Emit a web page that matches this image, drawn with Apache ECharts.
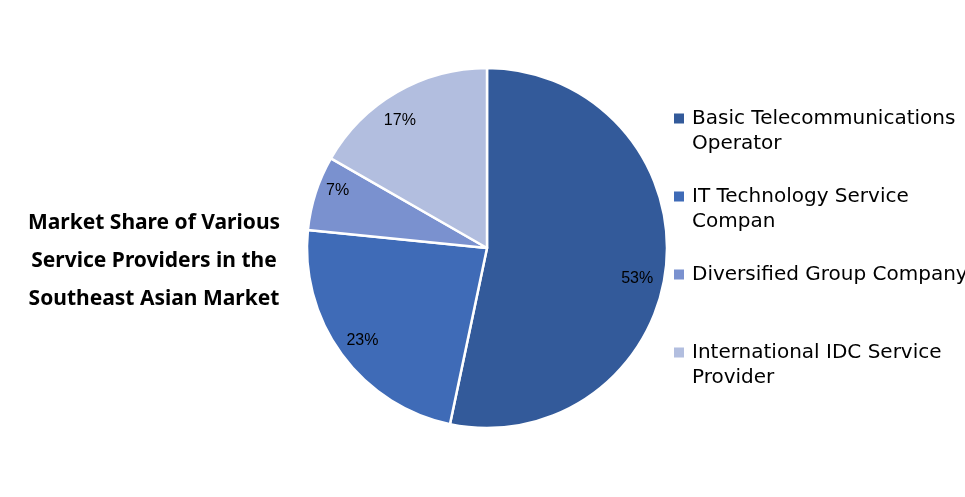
<!DOCTYPE html>
<html><head><meta charset="utf-8">
<script src="https://cdn.jsdelivr.net/npm/echarts@6/dist/echarts.min.js"></script>
<style>html,body{margin:0;padding:0;background:#fff}#c{width:965px;height:497px}</style>
</head><body><div id="c"></div>
<script>
const titleText = 'Market Share of Various\nService Providers in the\nSoutheast Asian Market';
const categories = ['Basic Telecommunications Operator', 'IT Technology Service Compan', 'Diversified Group Company', 'International IDC Service Provider'];
const legendLabels = ['Basic Telecommunications\nOperator', 'IT Technology Service\nCompan', 'Diversified Group Company', 'International IDC Service\nProvider'];
const values = [53.3, 23.3, 6.7, 16.7];
const colors = ['#335a9a', '#3f6bb7', '#7a91cf', '#b2bedf'];

// label nudges (style only)
const labelOffsets = [[-7, 14], [3, -1], [1, -9], [-8, 9]];

const chart = echarts.init(document.getElementById('c'));
chart.setOption({
  animation: false,
  title: {
    text: titleText, left: 149, top: 199, textAlign: 'center',
    textStyle: { fontFamily: 'Noto Sans', fontWeight: 'bold', fontSize: 21, lineHeight: 38, color: '#000' }
  },
  legend: {
    orient: 'vertical', left: 669, top: 76, itemWidth: 13, itemHeight: 10, itemGap: 3,
    icon: 'path://M0,0H10V10H0Z M12.99,0H13V10H12.99Z', symbolKeepAspect: false,
    itemStyle: { borderWidth: 0 },
    formatter: name => {
      const t = legendLabels[categories.indexOf(name)];
      return t.includes('\n') ? '\n' + t : '\n' + t + '\n';
    },
    textStyle: { fontFamily: 'DejaVu Sans', fontSize: 20, lineHeight: 25, color: '#000' },
    data: categories
  },
  series: [{
    type: 'pie', center: [487, 248], radius: [0, 180], startAngle: 90, clockwise: true,
    itemStyle: { borderColor: '#fff', borderWidth: 2.5 },
    label: { show: false }, labelLine: { show: false }, silent: true,
    data: categories.map((n, i) => ({ name: n, value: values[i], itemStyle: { color: colors[i] } }))
  }, {
    type: 'pie', center: [487, 248], radius: [130, 180], startAngle: 90, clockwise: true,
    silent: true, percentPrecision: 0, legendHoverLink: false,
    itemStyle: { color: 'rgba(0,0,0,0)', borderWidth: 0 },
    label: { show: true, position: 'inside', formatter: p => Math.round(p.percent) + '%', fontFamily: 'Liberation Sans', fontSize: 16, color: '#000' },
    labelLine: { show: false },
    data: categories.map((n, i) => ({ name: n, value: values[i], itemStyle: { color: 'rgba(0,0,0,0)' }, label: { offset: labelOffsets[i] } }))
  }]
});
</script></body></html>
